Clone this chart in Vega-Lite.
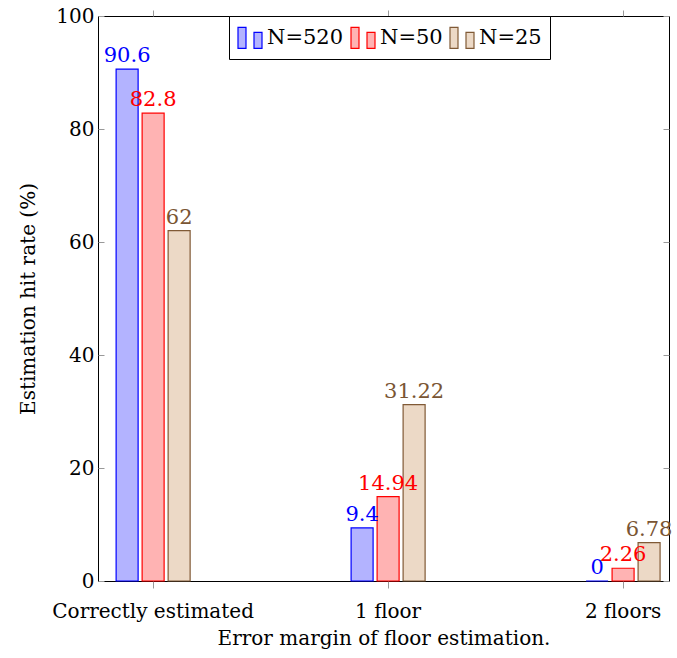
{
  "$schema": "https://vega.github.io/schema/vega-lite/v6.json",
  "width": 571,
  "height": 565,
  "autosize": {"type": "none"},
  "padding": {"left": 98, "top": 16, "right": 8, "bottom": 77},
  "background": "white",
  "config": {
    "font": "DejaVu Serif",
    "view": {"stroke": "black", "strokeWidth": 1},
    "axis": {"labelFont": "DejaVu Serif", "titleFont": "DejaVu Serif", "labelFontSize": 20, "titleFontSize": 20, "titleFontWeight": "normal", "labelColor": "black", "titleColor": "black", "tickColor": "#999999", "domain": false, "grid": false, "labelLimit": 400}
  },
  "data": {"values": [
    {"cat": "Correctly estimated", "series": "N=520", "value": 90.6, "label": "90.6"},
    {"cat": "Correctly estimated", "series": "N=50", "value": 82.8, "label": "82.8"},
    {"cat": "Correctly estimated", "series": "N=25", "value": 62, "label": "62"},
    {"cat": "1 floor", "series": "N=520", "value": 9.4, "label": "9.4"},
    {"cat": "1 floor", "series": "N=50", "value": 14.94, "label": "14.94"},
    {"cat": "1 floor", "series": "N=25", "value": 31.22, "label": "31.22"},
    {"cat": "2 floors", "series": "N=520", "value": 0, "label": "0"},
    {"cat": "2 floors", "series": "N=50", "value": 2.26, "label": "2.26"},
    {"cat": "2 floors", "series": "N=25", "value": 6.78, "label": "6.78"}
  ]},
  "encoding": {
    "x": {"field": "cat", "type": "nominal", "sort": ["Correctly estimated", "1 floor", "2 floors"],
      "scale": {"paddingInner": 0.668, "paddingOuter": 0.049, "align": 0.7}},
    "xOffset": {"field": "series", "type": "nominal", "sort": ["N=520", "N=50", "N=25"],
      "scale": {"paddingInner": 0.154, "paddingOuter": 0.077}},
    "y": {"field": "value", "type": "quantitative", "scale": {"domain": [0, 100], "nice": false, "zero": true}}
  },
  "layer": [
    {
      "mark": {"type": "bar", "strokeWidth": 1.2, "clip": false},
      "encoding": {
        "x": {"field": "cat", "type": "nominal", "sort": ["Correctly estimated", "1 floor", "2 floors"],
          "axis": {"orient": "bottom", "title": "Error margin of floor estimation.", "labelAngle": 0, "tickSize": 7, "labelPadding": 13, "titlePadding": 7}},
        "y": {"field": "value", "type": "quantitative",
          "axis": {"orient": "left", "title": "Estimation hit rate (%)", "values": [0, 20, 40, 60, 80, 100], "tickSize": -6, "labelPadding": 10, "titlePadding": 17}},
        "fill": {"field": "series", "type": "nominal", "sort": ["N=520", "N=50", "N=25"],
          "scale": {"domain": ["N=520", "N=50", "N=25"], "range": ["#b3b3ff", "#ffb3b3", "#ecd9c6"]},
          "legend": {
            "orient": "none", "legendX": 131, "legendY": 0, "direction": "horizontal", "title": null,
            "symbolType": "M-1,-0.84H-0.36V0.84H-1Z M0.28,-0.44H0.92V0.84H0.28Z",
            "symbolSize": 625, "symbolStrokeWidth": 1.2, "symbolOpacity": 1,
            "labelFont": "DejaVu Serif", "labelFontSize": 21, "labelColor": "black", "labelOffset": 3,
            "columnPadding": 4, "padding": 8, "strokeColor": "black", "fillColor": "white", "cornerRadius": 0
          }},
        "stroke": {"field": "series", "type": "nominal", "sort": ["N=520", "N=50", "N=25"],
          "scale": {"domain": ["N=520", "N=50", "N=25"], "range": ["#0000ff", "#ff0000", "#805a36"]}}
      }
    },
    {
      "mark": {"type": "text", "baseline": "bottom", "dy": -3, "fontSize": 21, "font": "DejaVu Serif"},
      "encoding": {
        "x": {"field": "cat", "type": "nominal", "sort": ["Correctly estimated", "1 floor", "2 floors"],
          "axis": {"orient": "top", "labels": false, "title": null, "tickSize": 6}},
        "y": {"field": "value", "type": "quantitative",
          "axis": {"orient": "right", "labels": false, "title": null, "values": [0, 20, 40, 60, 80, 100], "tickSize": -6}},
        "text": {"field": "label"},
        "color": {"field": "series", "type": "nominal", "sort": ["N=520", "N=50", "N=25"],
          "scale": {"domain": ["N=520", "N=50", "N=25"], "range": ["#0000ff", "#ff0000", "#7a5533"]}, "legend": null}
      }
    }
  ],
  "resolve": {"axis": {"x": "independent", "y": "independent"}, "scale": {"color": "independent"}}
}
